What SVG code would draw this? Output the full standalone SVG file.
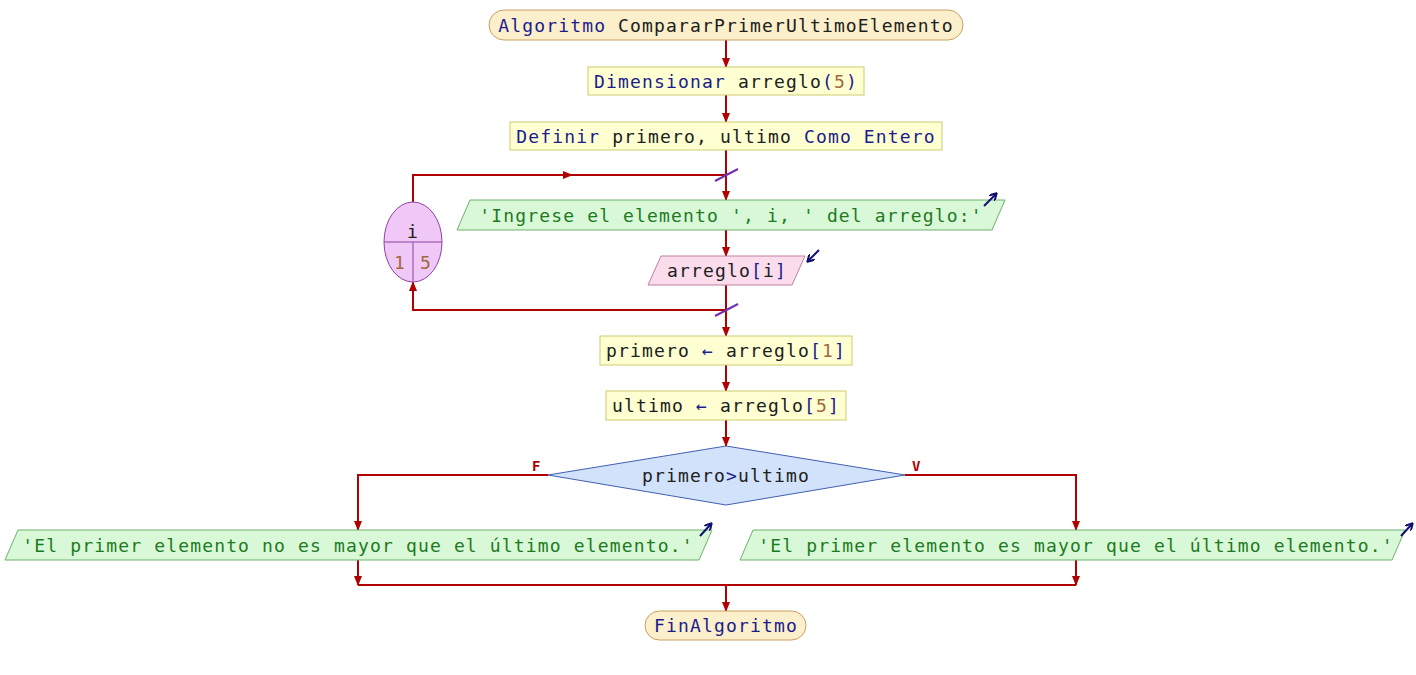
<svg xmlns="http://www.w3.org/2000/svg" width="1416" height="675" viewBox="0 0 1416 675">
<defs>
<marker id="ah" markerWidth="10" markerHeight="8" refX="9" refY="4" orient="auto" markerUnits="userSpaceOnUse">
<path d="M0,0 L10,4 L0,8 Z" fill="#b00000"/>
</marker>
<marker id="ic" markerWidth="8" markerHeight="8" refX="6" refY="4" orient="auto" markerUnits="userSpaceOnUse">
<path d="M0,0 L7,4 L0,8" fill="none" stroke="#101070" stroke-width="2"/>
</marker>
<style>
text{font-family:"DejaVu Sans Mono","Liberation Mono",monospace;font-size:18px;letter-spacing:1.15px;fill:#202020}
.kw{fill:#1c1c8c}
.num{fill:#a06a40}
.str{fill:#1e7a1e}
.lbl{fill:#b00000;font-size:14px;font-weight:bold;letter-spacing:0}
.term{fill:#fcefcb;stroke:#c8a060;stroke-width:1}
.proc{fill:#ffffd2;stroke:#cccc70;stroke-width:1}
.out{fill:#d8f8d8;stroke:#70b070;stroke-width:1}
.inp{fill:#fadcec;stroke:#c080a0;stroke-width:1}
.dec{fill:#d2e2fa;stroke:#4060b0;stroke-width:1}
.loop{fill:#f0c8f8;stroke:#9040a0;stroke-width:1}
.ln{fill:none;stroke:#b00000;stroke-width:2}
.sl{stroke:#7030b0;stroke-width:2}
.icon{fill:none;stroke:#101070;stroke-width:2}
</style>
</defs>
<rect width="1416" height="675" fill="#ffffff"/>

<g id="connectors">
<line class="ln" x1="726" y1="40" x2="726" y2="67" marker-end="url(#ah)"/>
<line class="ln" x1="726" y1="95" x2="726" y2="122" marker-end="url(#ah)"/>
<line class="ln" x1="726" y1="150" x2="726" y2="200" marker-end="url(#ah)"/>
<polyline class="ln" points="413,202 413,175 726,175"/>
<line class="ln" x1="560" y1="175" x2="572" y2="175" marker-end="url(#ah)"/>
<line class="sl" x1="715" y1="181" x2="738" y2="169"/>
<line class="ln" x1="726" y1="230" x2="726" y2="256" marker-end="url(#ah)"/>
<line class="ln" x1="726" y1="285" x2="726" y2="336" marker-end="url(#ah)"/>
<polyline class="ln" points="726,310 413,310 413,282" marker-end="url(#ah)"/>
<line class="sl" x1="715" y1="316" x2="738" y2="304"/>
<line class="ln" x1="726" y1="365" x2="726" y2="391" marker-end="url(#ah)"/>
<line class="ln" x1="726" y1="420" x2="726" y2="446" marker-end="url(#ah)"/>
<polyline class="ln" points="548,475 358,475 358,530" marker-end="url(#ah)"/>
<polyline class="ln" points="905,475 1076,475 1076,530" marker-end="url(#ah)"/>
<line class="ln" x1="358" y1="560" x2="358" y2="585" marker-end="url(#ah)"/>
<line class="ln" x1="1076" y1="560" x2="1076" y2="585" marker-end="url(#ah)"/>
<line class="ln" x1="358" y1="585" x2="1076" y2="585"/>
<line class="ln" x1="726" y1="585" x2="726" y2="611" marker-end="url(#ah)"/>
<text class="lbl" x="532" y="471">F</text>
<text class="lbl" x="912" y="471">V</text>
</g>

<g id="start">
<rect class="term" x="489" y="10" width="474" height="30" rx="15" ry="15"/>
<text x="726" y="32" text-anchor="middle"><tspan class="kw">Algoritmo</tspan> CompararPrimerUltimoElemento</text>
</g>

<g id="dim">
<rect class="proc" x="588" y="67" width="276" height="28"/>
<text x="726" y="88" text-anchor="middle"><tspan class="kw">Dimensionar</tspan> arreglo<tspan class="kw">(</tspan><tspan class="num">5</tspan><tspan class="kw">)</tspan></text>
</g>

<g id="def">
<rect class="proc" x="510" y="122" width="432" height="28"/>
<text x="726" y="143" text-anchor="middle"><tspan class="kw">Definir</tspan> primero, ultimo <tspan class="kw">Como Entero</tspan></text>
</g>

<g id="loop">
<ellipse class="loop" cx="413" cy="242" rx="29" ry="40"/>
<line x1="384" y1="242" x2="442" y2="242" stroke="#9040a0" stroke-width="1"/>
<line x1="413" y1="242" x2="413" y2="281" stroke="#9040a0" stroke-width="1"/>
<text x="413" y="238" text-anchor="middle">i</text>
<text class="num" x="400" y="269" text-anchor="middle">1</text>
<text class="num" x="426" y="269" text-anchor="middle">5</text>
</g>

<g id="out1">
<polygon class="out" points="470,200 1005,200 992,230 457,230"/>
<text class="str" x="731" y="222" text-anchor="middle">'Ingrese el elemento ', i, ' del arreglo:'</text>
<line class="icon" x1="984" y1="206" x2="996" y2="194" marker-end="url(#ic)"/>
</g>

<g id="in1">
<polygon class="inp" points="661,256 805,256 792,285 648,285"/>
<text x="727" y="277" text-anchor="middle">arreglo<tspan class="kw">[</tspan>i<tspan class="kw">]</tspan></text>
<line class="icon" x1="819" y1="250" x2="808" y2="261" marker-end="url(#ic)"/>
</g>

<g id="asg1">
<rect class="proc" x="600" y="336" width="252" height="29"/>
<text x="726" y="357" text-anchor="middle">primero <tspan class="kw">←</tspan> arreglo<tspan class="kw">[</tspan><tspan class="num">1</tspan><tspan class="kw">]</tspan></text>
</g>

<g id="asg2">
<rect class="proc" x="606" y="391" width="240" height="29"/>
<text x="726" y="412" text-anchor="middle">ultimo <tspan class="kw">←</tspan> arreglo<tspan class="kw">[</tspan><tspan class="num">5</tspan><tspan class="kw">]</tspan></text>
</g>

<g id="cond">
<polygon class="dec" points="726,446 905,475 726,505 548,475"/>
<text x="726" y="482" text-anchor="middle">primero<tspan class="kw">&gt;</tspan>ultimo</text>
</g>

<g id="outF">
<polygon class="out" points="18,530 712,530 699,560 5,560"/>
<text class="str" x="358" y="552" text-anchor="middle">'El primer elemento no es mayor que el último elemento.'</text>
<line class="icon" x1="700" y1="536" x2="711" y2="524" marker-end="url(#ic)"/>
</g>

<g id="outV">
<polygon class="out" points="753,530 1405,530 1392,560 740,560"/>
<text class="str" x="1076" y="552" text-anchor="middle">'El primer elemento es mayor que el último elemento.'</text>
<line class="icon" x1="1401" y1="536" x2="1412" y2="524" marker-end="url(#ic)"/>
</g>

<g id="end">
<rect class="term" x="645" y="611" width="161" height="29" rx="14.5" ry="14.5"/>
<text class="kw" x="726" y="632" text-anchor="middle">FinAlgoritmo</text>
</g>
</svg>
